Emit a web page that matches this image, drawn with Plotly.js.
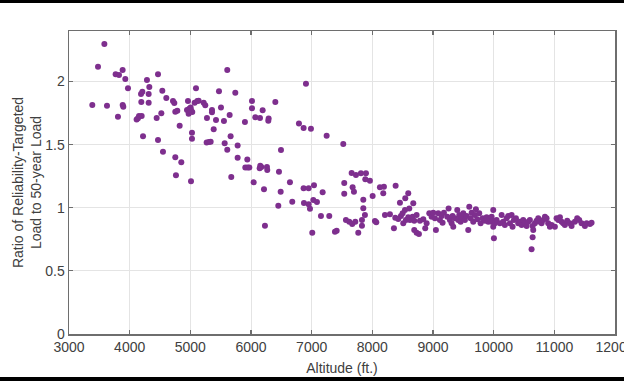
<!DOCTYPE html>
<html>
<head>
<meta charset="utf-8">
<script src="https://cdn.plot.ly/plotly-3.0.1.min.js"></script>
<style>
html,body{margin:0;padding:0;background:#fff;}
#wrap{position:relative;width:624px;height:381px;overflow:hidden;}
#chart{width:624px;height:381px;}
.bar{position:absolute;left:0;width:624px;background:#000;}
</style>
</head>
<body>
<div id="wrap">
<div id="chart"></div>
<div class="bar" style="top:0;height:3px;"></div>
<div class="bar" style="top:377px;height:4px;"></div>
</div>
<script>
// Altitude (ft.)
var altitude = [
3384,3478,3583,3626,3769,3824,3884,3928,3972,3807,3885,3895,
4115,4154,4198,4137,4187,4209,4192,4220,4285,4313,4324,4313,4445,4467,4467,4522,4538,4549,4604,
4714,4736,4752,4785,4752,4763,4824,4851,4961,4945,4983,5005,4972,5032,5011,5011,5027,5027,
5071,5115,5137,5093,5220,5246,5274,5269,5307,5335,5357,5357,5385,5423,5472,5505,5554,5566,
5609,5609,5648,5664,5675,5741,5780,5780,5900,5906,5945,5972,5939,6016,6016,6044,6071,6148,
6153,6170,6143,6192,6214,6263,6268,6291,6285,6401,6450,6461,6489,6494,6642,6680,6790,6867,
6867,6950,6906,6988,7038,6873,6950,6972,7027,7087,7181,7247,7153,7290,6230,7010,
7521,7537,7537,7659,7730,7675,7697,7812,7895,7884,7565,7620,7669,7719,7829,7768,7829,
7851,7851,7878,7384,7412,
7960,8005,8043,8065,8125,8191,8180,8208,8290,8356,8384,
8378,8427,8471,8510,8499,8554,8538,8455,8543,8592,8675,8609,
8592,8620,8664,8691,8730,8691,8730,8768,8785,8840,8872,8895,
8939,8977,9004,9032,9048,9086,9114,9142,9158,9180,9235,9257,9279,9307,9323,9334,9361,9400,
9416,9433,9455,9472,9499,9526,9554,9581,9598,9620,9637,9663,9691,9707,9729,9762,9785,9818,
9856,9884,9911,9938,9966,9993,10004,10004,
9966,9993,10021,10048,10103,10131,10157,10185,10213,10240,10268,10296,10312,10334,10367,
10405,10433,10461,10487,10515,10543,10570,10597,10642,10652,10642,10625,10680,10708,10735,
10762,10790,10817,10845,10872,10899,10927,10955,11009,11037,11064,11092,11120,11146,11174,
11212,11256,11284,11339,11377,11410,11449,11504,11532,11587,11614
];
// Ratio of reliability-targeted load to 50-year load
var ratio = [
1.814,2.117,2.297,1.808,2.057,2.051,2.091,2.020,1.946,1.721,1.814,1.800,
1.700,1.727,1.727,1.708,1.901,1.919,1.838,1.566,2.012,1.901,1.956,1.832,1.711,2.057,1.537,1.748,1.927,1.444,1.869,
1.846,1.830,1.761,1.769,1.400,1.257,1.650,1.360,1.846,1.774,1.785,1.795,1.745,1.758,1.774,1.209,1.595,1.547,
1.832,1.846,1.848,1.946,1.832,1.811,1.711,1.516,1.521,1.523,1.774,1.756,1.621,1.695,1.922,1.795,1.687,1.511,
2.091,1.460,1.735,1.566,1.244,1.911,1.493,1.396,1.679,1.318,1.318,1.318,1.383,1.846,1.788,1.201,1.716,1.711,
1.333,1.323,1.312,1.772,1.146,1.323,1.299,1.706,1.690,1.838,1.016,1.286,1.127,1.457,1.201,1.048,1.668,1.632,
1.154,1.154,1.983,1.626,1.178,1.038,1.027,0.993,1.061,1.046,1.122,1.571,0.935,0.935,0.858,0.802,
1.505,1.196,1.111,1.275,1.259,1.162,1.127,1.273,1.273,1.225,0.903,0.890,0.871,0.890,0.903,0.802,0.858,
1.064,0.996,0.943,0.810,0.818,
1.214,1.093,0.895,0.885,1.162,1.167,1.114,0.943,0.948,0.837,1.175,
0.921,0.911,0.935,0.877,0.956,0.903,0.982,1.040,1.075,1.114,1.035,0.995,
0.924,0.903,0.929,0.898,0.943,0.824,0.802,0.792,0.898,0.908,0.837,0.877,
0.956,0.929,0.961,0.916,0.824,0.956,0.903,0.935,0.882,0.961,0.929,0.995,0.903,0.877,0.935,0.850,0.916,0.982,
0.903,0.943,0.890,0.929,0.956,0.903,0.935,0.824,1.008,0.916,0.961,0.890,0.943,0.988,0.908,0.956,0.877,0.916,
0.898,0.924,0.890,0.908,0.929,0.982,0.890,0.758,
0.890,0.850,0.877,0.903,0.877,0.943,0.890,0.863,0.916,0.935,0.877,0.943,0.850,0.903,0.916,
0.877,0.890,0.863,0.903,0.877,0.855,0.890,0.903,0.855,0.824,0.766,0.671,0.877,0.898,0.916,
0.890,0.877,0.903,0.929,0.916,0.877,0.850,0.863,0.850,0.916,0.903,0.924,0.890,0.877,0.863,
0.898,0.877,0.855,0.890,0.916,0.903,0.877,0.855,0.877,0.871,0.882
];
var xTicks = [3000,4000,5000,6000,7000,8000,9000,10000,11000,12000];
var yTicks = [0,0.5,1,1.5,2];
var yTickLabels = ['0','0.5','1','1.5','2'];

var font = {family: 'Liberation Sans, Arial, sans-serif', size: 14, color: '#404040'};
var axisColor = '#6e6e6e';

var trace = {
  x: altitude, y: ratio, type: 'scatter', mode: 'markers',
  marker: {color: '#7E2F8E', size: 6, line: {width: 0}},
  hoverinfo: 'x+y'
};

var layout = {
  width: 624, height: 381,
  margin: {l: 69, r: 9, t: 31, b: 47},
  paper_bgcolor: '#ffffff', plot_bgcolor: '#ffffff',
  font: font,
  showlegend: false,
  xaxis: {
    range: [3000, 12000], tickvals: xTicks, ticktext: xTicks.map(String),
    showgrid: true, gridcolor: '#e4e4e4', gridwidth: 1,
    zeroline: false, showline: true, linecolor: axisColor, linewidth: 1.5, mirror: 'ticks',
    ticks: 'inside', ticklen: 4, tickcolor: axisColor, tickwidth: 1.2,
    tickfont: font, ticklabeloverflow: 'allow',
    title: {text: 'Altitude (ft.)', font: font, standoff: 9}
  },
  yaxis: {
    range: [0, 2.4], tickvals: yTicks, ticktext: yTickLabels,
    showgrid: true, gridcolor: '#e4e4e4', gridwidth: 1,
    zeroline: false, showline: true, linecolor: axisColor, linewidth: 1.5, mirror: 'ticks',
    ticks: 'inside', ticklen: 4, tickcolor: axisColor, tickwidth: 1.2,
    tickfont: font,
    title: {text: 'Ratio of Reliability-Targeted<br>Load to 50-year Load', font: font, standoff: 0}
  }
};

Plotly.newPlot('chart', [trace], layout, {displayModeBar: false, staticPlot: true});
</script>
</body>
</html>
